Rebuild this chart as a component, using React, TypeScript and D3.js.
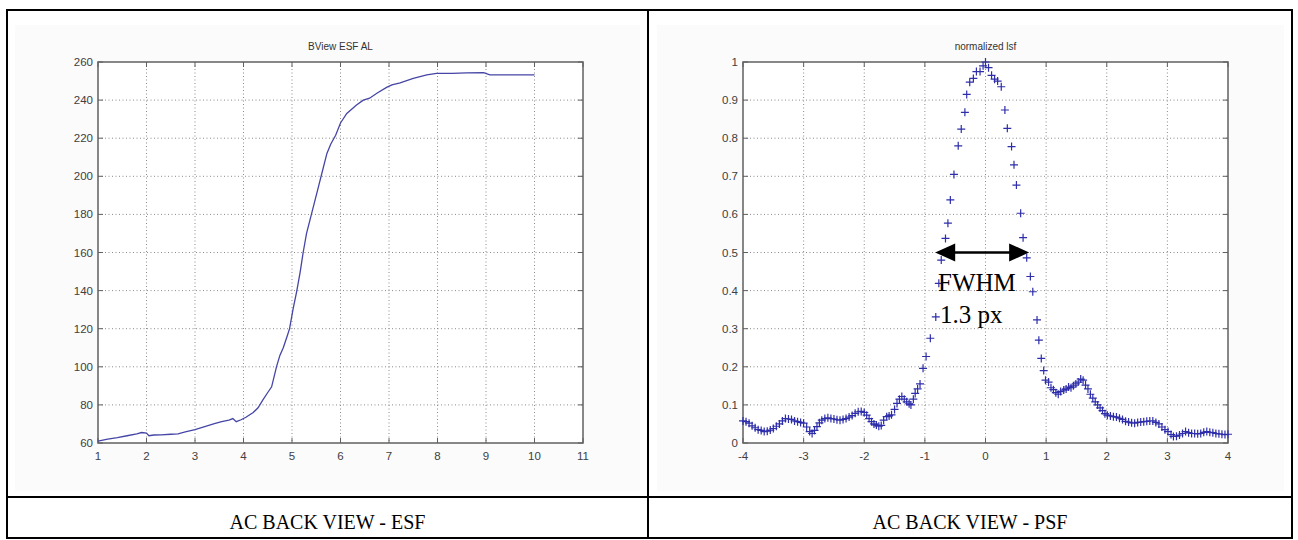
import React from "react";
import * as d3 from "d3";

// ESF data (left)
const esfX = [1.0, 1.2, 1.4, 1.6, 1.8, 1.9, 2.0, 2.05, 2.15, 2.3, 2.5, 2.65, 2.8, 3.0, 3.2, 3.4, 3.55, 3.7, 3.78, 3.85, 3.95, 4.05, 4.2, 4.3, 4.4, 4.5, 4.58, 4.68, 4.75, 4.82, 4.9, 4.95, 5.02, 5.1, 5.17, 5.23, 5.3, 5.4, 5.47, 5.55, 5.65, 5.72, 5.8, 5.9, 6.0, 6.13, 6.33, 6.47, 6.6, 6.75, 6.95, 7.06, 7.23, 7.5, 7.78, 7.98, 8.3, 8.6, 8.95, 9.08, 9.5, 10.0];
const esfY = [61, 62, 62.8, 63.8, 64.8, 65.5, 65.2, 63.8, 64.2, 64.3, 64.6, 64.8, 65.8, 67, 68.6, 70.2, 71.2, 72, 72.8, 71.2, 72.2, 73.5, 76, 78.5, 82.6, 86.5, 89.5, 100, 106, 110, 116, 120, 130, 140, 150, 160, 170, 180, 187, 195, 205, 212, 217, 221.5, 228, 233, 237.4, 240, 241, 243.6, 246.7, 248, 249, 251.4, 253.2, 254, 254, 254.3, 254.4, 253.2, 253.2, 253.2];
const esfXTicks = [1, 2, 3, 4, 5, 6, 7, 8, 9, 10, 11];
const esfYTicks = [60, 80, 100, 120, 140, 160, 180, 200, 220, 240, 260];

// PSF data (right)
const psfX = [-4.0, -3.95, -3.9, -3.85, -3.8, -3.75, -3.7, -3.65, -3.6, -3.55, -3.5, -3.45, -3.4, -3.35, -3.3, -3.25, -3.2, -3.15, -3.1, -3.05, -3.0, -2.95, -2.9, -2.86, -2.82, -2.78, -2.74, -2.7, -2.65, -2.6, -2.55, -2.5, -2.45, -2.4, -2.35, -2.3, -2.25, -2.2, -2.15, -2.1, -2.05, -2.0, -1.96, -1.92, -1.88, -1.84, -1.8, -1.76, -1.72, -1.68, -1.63, -1.59, -1.55, -1.5, -1.46, -1.42, -1.38, -1.34, -1.3, -1.26, -1.23, -1.19, -1.16, -1.12, -1.08, -1.03, -0.98, -0.91, -0.82, -0.77, -0.73, -0.66, -0.62, -0.58, -0.52, -0.45, -0.4, -0.34, -0.31, -0.26, -0.2, -0.15, -0.09, -0.04, 0.0, 0.05, 0.1, 0.15, 0.2, 0.26, 0.32, 0.36, 0.43, 0.47, 0.51, 0.58, 0.62, 0.68, 0.74, 0.78, 0.85, 0.88, 0.92, 0.96, 0.99, 1.04, 1.08, 1.12, 1.16, 1.2, 1.24, 1.29, 1.33, 1.37, 1.41, 1.45, 1.49, 1.53, 1.57, 1.61, 1.65, 1.69, 1.73, 1.77, 1.81, 1.85, 1.89, 1.93, 1.97, 2.01, 2.06, 2.11, 2.16, 2.21, 2.26, 2.31, 2.36, 2.41, 2.46, 2.51, 2.56, 2.61, 2.66, 2.71, 2.76, 2.81, 2.86, 2.91, 2.96, 3.01, 3.06, 3.1, 3.15, 3.2, 3.25, 3.3, 3.35, 3.4, 3.45, 3.5, 3.55, 3.6, 3.65, 3.7, 3.75, 3.8, 3.85, 3.9, 3.95, 4.0];
const psfY = [0.058, 0.056, 0.052, 0.045, 0.04, 0.035, 0.033, 0.03, 0.031, 0.034, 0.038, 0.044, 0.05, 0.058, 0.064, 0.063, 0.062, 0.058, 0.056, 0.054, 0.052, 0.042, 0.03, 0.025, 0.033, 0.043, 0.053, 0.06, 0.064, 0.066, 0.064, 0.063, 0.061, 0.06, 0.062, 0.064, 0.068, 0.072, 0.078, 0.082, 0.083, 0.08, 0.073, 0.064, 0.056, 0.05, 0.047, 0.044, 0.046, 0.06, 0.069, 0.071, 0.074, 0.088, 0.104, 0.115, 0.122, 0.115, 0.108, 0.103, 0.1, 0.115, 0.13, 0.142, 0.155, 0.196, 0.227, 0.275, 0.331, 0.419, 0.48, 0.537, 0.577, 0.638, 0.705, 0.78, 0.824, 0.868, 0.915, 0.947, 0.957, 0.975, 0.975, 0.99, 1.0, 0.985, 0.965, 0.955, 0.95, 0.935, 0.874, 0.826, 0.778, 0.73, 0.677, 0.603, 0.539, 0.486, 0.437, 0.397, 0.323, 0.27, 0.222, 0.19, 0.165, 0.16, 0.145, 0.14, 0.132, 0.128, 0.135, 0.139, 0.142, 0.147, 0.145, 0.15, 0.155, 0.16, 0.168, 0.165, 0.152, 0.142, 0.128, 0.118, 0.108, 0.1, 0.092, 0.085, 0.077, 0.073, 0.071, 0.069, 0.068, 0.065, 0.062, 0.057, 0.055, 0.053, 0.052, 0.054, 0.055, 0.056, 0.057, 0.058, 0.058, 0.054, 0.05, 0.042, 0.035, 0.03, 0.022, 0.017, 0.018, 0.021, 0.025, 0.03, 0.027, 0.025, 0.025, 0.024, 0.025, 0.028, 0.03, 0.028, 0.027, 0.025, 0.024, 0.023, 0.022, 0.023];
const psfXTicks = [-4, -3, -2, -1, 0, 1, 2, 3, 4];
const psfYTicks = [0, 0.1, 0.2, 0.3, 0.4, 0.5, 0.6, 0.7, 0.8, 0.9, 1];

const leftTitle = "BView ESF AL";
const rightTitle = "normalized lsf";
const leftCaption = "AC BACK VIEW - ESF";
const rightCaption = "AC BACK VIEW - PSF";
const fwhmLine1 = "FWHM";
const fwhmLine2 = "1.3 px";
const arrowFrom = -0.83;
const arrowTo = 0.72;
const arrowLevel = 0.5;

const TOP = 62;
const BOTTOM = 443;

function Axes({ x, y, xTicks, yTicks, title, fmtY }: any) {
  const [x0, x1] = x.range();
  const axisColor = "#606060";
  const gridColor = "#8a8a8a";
  const tickLen = 5;
  return (
    <g>
      <rect x={x0} y={TOP} width={x1 - x0} height={BOTTOM - TOP} fill="#ffffff" />
      {xTicks.slice(1, -1).map((t: number) => (
        <line key={"gx" + t} x1={x(t)} x2={x(t)} y1={TOP} y2={BOTTOM} stroke={gridColor} strokeWidth={1} strokeDasharray="1,2.5" />
      ))}
      {yTicks.slice(1, -1).map((t: number) => (
        <line key={"gy" + t} x1={x0} x2={x1} y1={y(t)} y2={y(t)} stroke={gridColor} strokeWidth={1} strokeDasharray="1,2.5" />
      ))}
      {xTicks.map((t: number) => (
        <g key={"tx" + t}>
          <line x1={x(t)} x2={x(t)} y1={BOTTOM} y2={BOTTOM - tickLen} stroke={axisColor} />
          <line x1={x(t)} x2={x(t)} y1={TOP} y2={TOP + tickLen} stroke={axisColor} />
          <text x={x(t)} y={BOTTOM + 17} textAnchor="middle" fontFamily="Arial, 'Liberation Sans', sans-serif" fontSize={11.5} fill="#404040">{t}</text>
        </g>
      ))}
      {yTicks.map((t: number) => (
        <g key={"ty" + t}>
          <line x1={x0} x2={x0 + tickLen} y1={y(t)} y2={y(t)} stroke={axisColor} />
          <line x1={x1} x2={x1 - tickLen} y1={y(t)} y2={y(t)} stroke={axisColor} />
          <text x={x0 - 5} y={y(t) + 4} textAnchor="end" fontFamily="Arial, 'Liberation Sans', sans-serif" fontSize={11.5} fill="#404040">{fmtY(t)}</text>
        </g>
      ))}
      <rect x={x0} y={TOP} width={x1 - x0} height={BOTTOM - TOP} fill="none" stroke={axisColor} strokeWidth={1.5} />
      <text x={(x0 + x1) / 2} y={TOP - 12} textAnchor="middle" fontFamily="Arial, 'Liberation Sans', sans-serif" fontSize={10} fill="#333">{title}</text>
    </g>
  );
}

export default function App() {
  const xL = d3.scaleLinear().domain([1, 11]).range([98, 583]);
  const yL = d3.scaleLinear().domain([60, 260]).range([BOTTOM, TOP]);
  const xR = d3.scaleLinear().domain([-4, 4]).range([743, 1228]);
  const yR = d3.scaleLinear().domain([0, 1]).range([BOTTOM, TOP]);

  const esfPts: [number, number][] = esfX.map((v, i) => [v, esfY[i]]);
  const line = d3.line<[number, number]>().x((d) => xL(d[0])).y((d) => yL(d[1]));

  const plusPath = psfX
    .map((v, i) => {
      const cx = xR(v);
      const cy = yR(psfY[i]);
      return `M${cx - 4},${cy}H${cx + 4}M${cx},${cy - 4}V${cy + 4}`;
    })
    .join("");

  const ay = yR(arrowLevel);
  const ax0 = xR(arrowFrom);
  const ax1 = xR(arrowTo);
  const ah = 20;
  const aw = 9;

  return (
    <svg width={1298} height={540} style={{ position: "absolute", left: 0, top: 0, background: "#fff" }}>
      <rect x={0} y={0} width={1298} height={540} fill="#fff" />
      <rect x={15} y={25} width={625} height={466} fill="#fbfbfb" />
      <rect x={657} y={25} width={627} height={466} fill="#fbfbfb" />

      <Axes x={xL} y={yL} xTicks={esfXTicks} yTicks={esfYTicks} title={leftTitle} fmtY={(t: number) => String(t)} />
      <path d={line(esfPts) || ""} fill="none" stroke="#4545a5" strokeWidth={1.3} />

      <Axes x={xR} y={yR} xTicks={psfXTicks} yTicks={psfYTicks} title={rightTitle} fmtY={(t: number) => String(+t.toFixed(1))} />
      <path d={plusPath} fill="none" stroke="#2e2eaa" strokeWidth={1.2} />

      {/* arrow */}
      <line x1={ax0 + ah - 2} x2={ax1 - ah + 2} y1={ay} y2={ay} stroke="#000" strokeWidth={2.5} />
      <path d={`M${ax0},${ay}L${ax0 + ah},${ay - aw}L${ax0 + ah},${ay + aw}Z`} fill="#000" />
      <path d={`M${ax1},${ay}L${ax1 - ah},${ay - aw}L${ax1 - ah},${ay + aw}Z`} fill="#000" />
      <text x={938} y={291} fontFamily="'Times New Roman', 'Liberation Serif', serif" fontSize={25} fill="#000">{fwhmLine1}</text>
      <text x={940} y={323} fontFamily="'Times New Roman', 'Liberation Serif', serif" fontSize={25} fill="#000">{fwhmLine2}</text>

      {/* table borders */}
      <g stroke="#000" strokeWidth={2} fill="none">
        <rect x={7} y={10} width={1285} height={528} />
        <line x1={648} x2={648} y1={10} y2={538} />
        <line x1={7} x2={1292} y1={497} y2={497} />
      </g>
      <text x={327.5} y={529} textAnchor="middle" fontFamily="'Times New Roman', 'Liberation Serif', serif" fontSize={20} fill="#000">{leftCaption}</text>
      <text x={970} y={529} textAnchor="middle" fontFamily="'Times New Roman', 'Liberation Serif', serif" fontSize={20} fill="#000">{rightCaption}</text>
    </svg>
  );
}
